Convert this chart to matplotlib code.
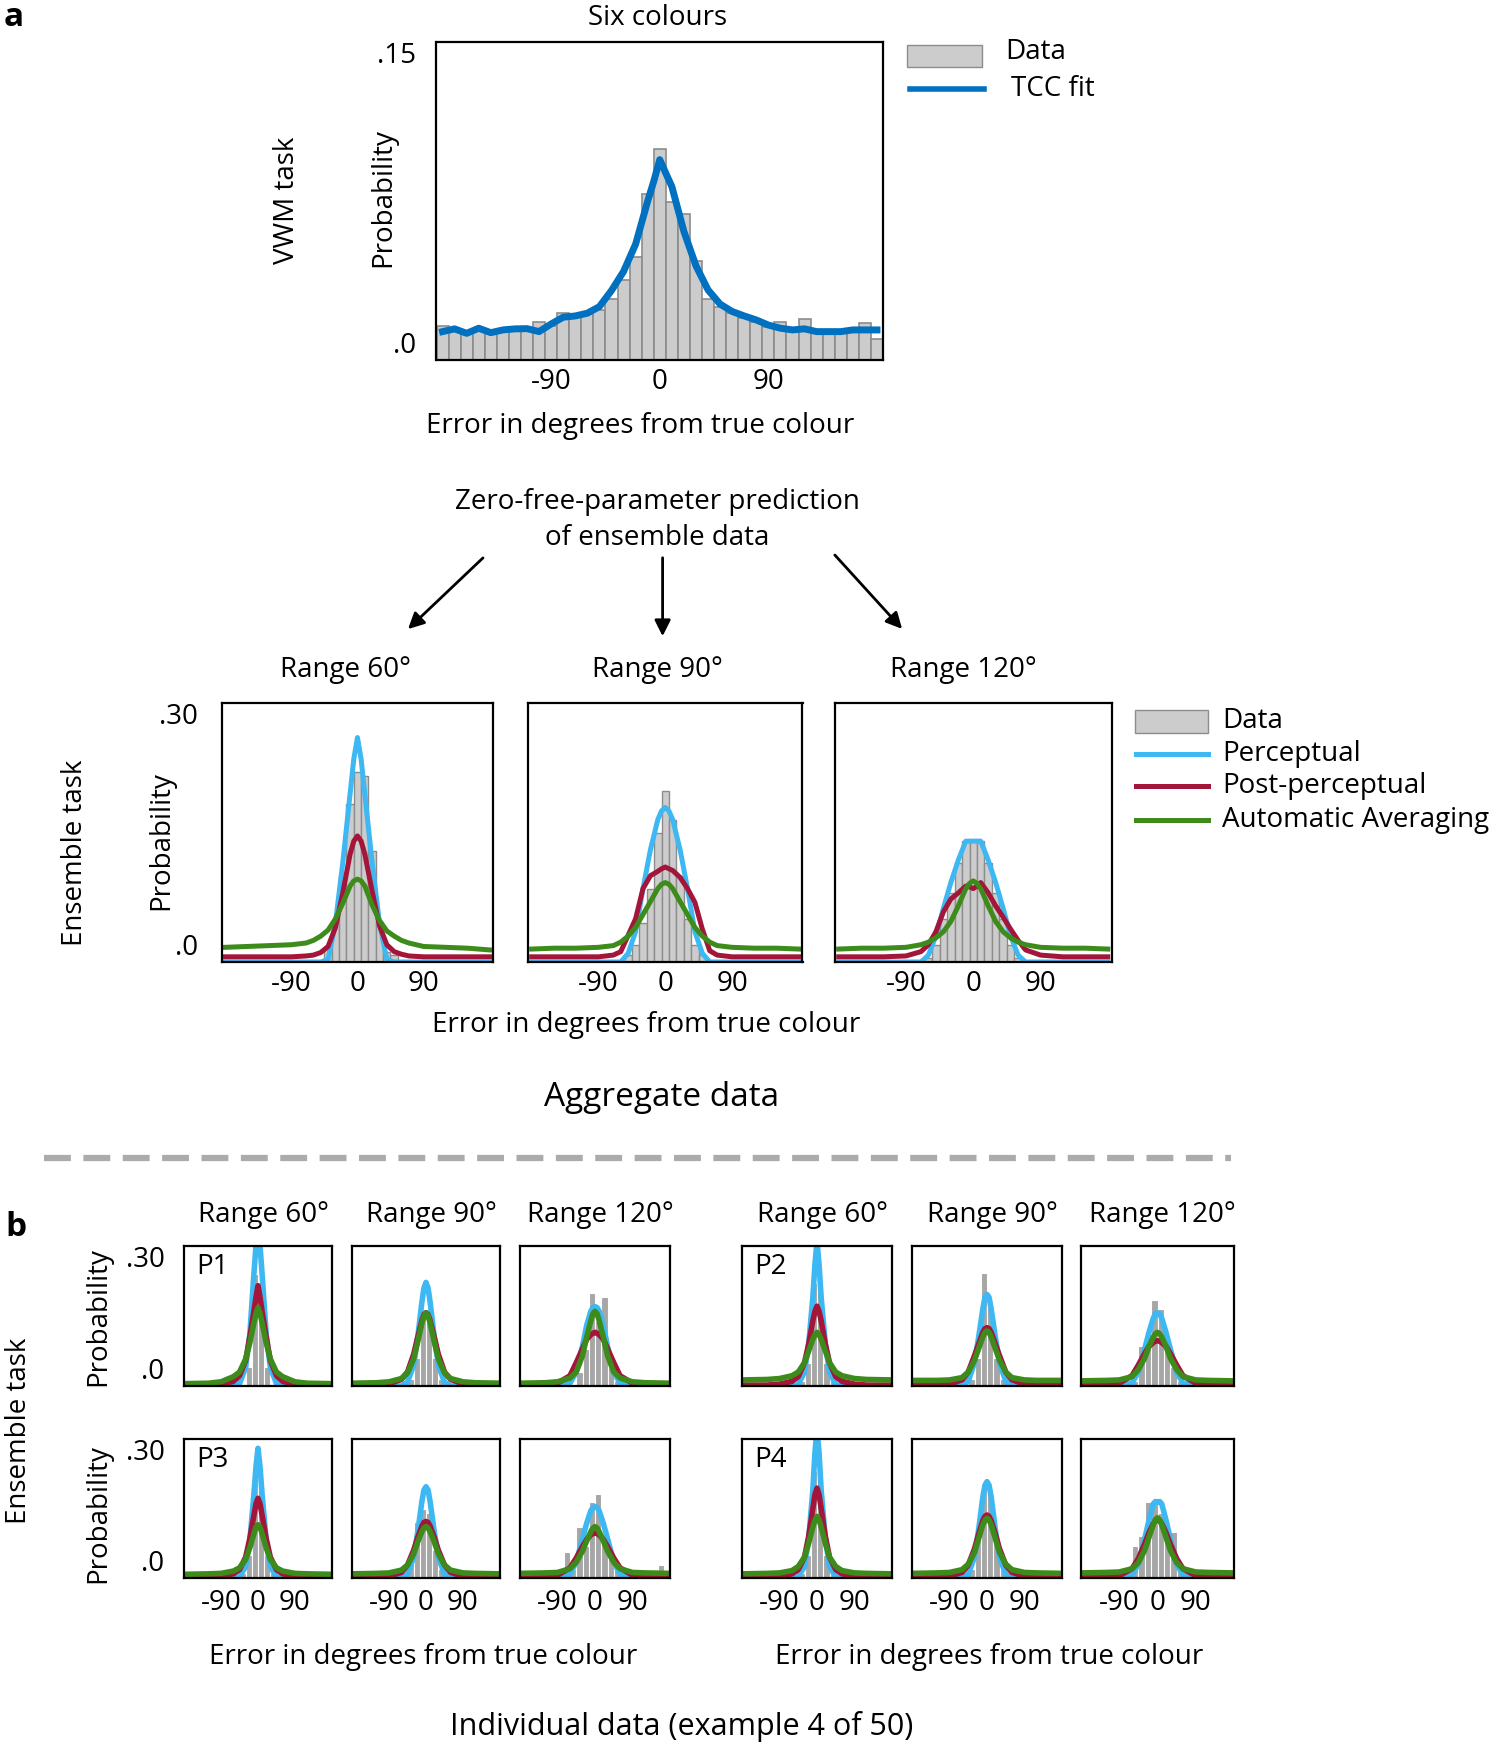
"""Aggregate + individual ensemble-task fits (TCC predictions vs data)."""

import matplotlib.pyplot as plt
import numpy as np
from matplotlib.lines import Line2D
from matplotlib.patches import FancyArrowPatch, Rectangle

W, H = 1500, 1746
plt.rcParams["font.family"] = ["Open Sans", "DejaVu Sans"]

TCC_BLUE = "#0070C0"
PERC = "#3DB8F3"      # perceptual
POST = "#A3163A"      # post-perceptual
AUTO = "#3D8C1B"      # automatic averaging
BAR_LIGHT = "#CCCCCC"
BAR_EDGE = "#8C8C8C"
BAR_DARK = "#A6A6A6"

# ---------- panel a, top: VWM task, six colours ----------
TOP_BIN_CENTERS = np.arange(-180, 181, 10)
TOP_HIST = [0.0162, 0.0135, 0.0130, 0.0135, 0.0130, 0.0135, 0.0135, 0.0135, 0.0180,
            0.0160, 0.0224, 0.0210, 0.0215, 0.0236, 0.0287, 0.0380, 0.0488, 0.0785,
            0.0996, 0.0748, 0.0689, 0.0468, 0.0287, 0.0250, 0.0220, 0.0197, 0.0180,
            0.0158, 0.0180, 0.0150, 0.0192, 0.0140, 0.0135, 0.0135, 0.0140, 0.0173,
            0.0098]
TOP_FIT_X = [-180, -170, -160, -150, -140, -130, -120, -110, -100, -90, -80, -70, -60,
             -50, -40, -30, -20, -10, -5, 0, 5, 10, 20, 30, 40, 50, 60, 70, 80, 90, 100,
             110, 120, 130, 140, 150, 160, 170, 180]
TOP_FIT = [0.0134, 0.0147, 0.0126, 0.0150, 0.0129, 0.0142, 0.0147, 0.0148, 0.0134,
           0.0170, 0.0202, 0.0208, 0.0221, 0.0252, 0.0328, 0.0418, 0.0547, 0.0750,
           0.0843, 0.0946, 0.0882, 0.0819, 0.0607, 0.0445, 0.0331, 0.0264, 0.0229,
           0.0208, 0.0189, 0.0165, 0.0150, 0.0142, 0.0147, 0.0134, 0.0134, 0.0134,
           0.0142, 0.0142, 0.0142]

# ---------- panel a, bottom: aggregate ensemble data ----------
MID_RANGES = ["Range 60\u00b0", "Range 90\u00b0", "Range 120\u00b0"]
MID_BIN_CENTERS = [-60, -50, -40, -30, -20, -10, 0, 10, 20, 30, 40, 50, 60]
MID_HIST = [
    [0, 0, 0.015, 0.046, 0.100, 0.183, 0.220, 0.215, 0.129, 0.046, 0.012, 0.008, 0],
    [0, 0.008, 0.020, 0.045, 0.085, 0.150, 0.198, 0.165, 0.100, 0.050, 0.020, 0.008, 0],
    [0.005, 0.020, 0.050, 0.080, 0.115, 0.140, 0.140, 0.140, 0.115, 0.080, 0.050, 0.020, 0.005],
]
MID_X = [-180, -150, -120, -90, -70, -60, -50, -40, -30, -20, -10, -5, 0, 5, 10, 20,
         30, 40, 50, 60, 70, 90, 120, 150, 180]
MID_PERC = [
    [0, 0, 0, 0, 0, 0, 0, 0.003, 0.045, 0.115, 0.195, 0.235, 0.260, 0.235, 0.195, 0.115,
     0.045, 0.003, 0, 0, 0, 0, 0, 0, 0],
    [0, 0, 0, 0, 0, 0, 0.010, 0.035, 0.085, 0.130, 0.165, 0.175, 0.179, 0.175, 0.165,
     0.130, 0.085, 0.035, 0.010, 0, 0, 0, 0, 0, 0],
    [0, 0, 0, 0, 0, 0.008, 0.030, 0.062, 0.092, 0.118, 0.140, 0.140, 0.140, 0.140, 0.140,
     0.118, 0.092, 0.062, 0.030, 0.008, 0, 0, 0, 0, 0],
]
MID_POST = [
    [0.006, 0.006, 0.006, 0.006, 0.007, 0.008, 0.011, 0.018, 0.040, 0.080, 0.125, 0.140,
     0.146, 0.140, 0.125, 0.082, 0.042, 0.020, 0.012, 0.009, 0.007, 0.006, 0.006, 0.006,
     0.006],
    [0.006, 0.006, 0.006, 0.006, 0.008, 0.012, 0.031, 0.050, 0.085, 0.100, 0.105, 0.108,
     0.110, 0.108, 0.106, 0.098, 0.085, 0.069, 0.038, 0.013, 0.008, 0.006, 0.006, 0.006,
     0.006],
    [0.006, 0.006, 0.006, 0.007, 0.012, 0.020, 0.035, 0.058, 0.073, 0.080, 0.088, 0.087,
     0.085, 0.088, 0.092, 0.080, 0.065, 0.052, 0.038, 0.025, 0.014, 0.008, 0.006, 0.006,
     0.006],
]
MID_AUTO = [
    [0.017, 0.018, 0.019, 0.020, 0.022, 0.025, 0.030, 0.037, 0.050, 0.068, 0.088, 0.094,
     0.096, 0.094, 0.088, 0.066, 0.048, 0.036, 0.030, 0.025, 0.022, 0.018, 0.017, 0.016,
     0.014],
    [0.015, 0.016, 0.016, 0.017, 0.019, 0.023, 0.030, 0.040, 0.055, 0.070, 0.085, 0.090,
     0.092, 0.090, 0.085, 0.070, 0.055, 0.040, 0.030, 0.023, 0.019, 0.017, 0.016, 0.016,
     0.015],
    [0.015, 0.016, 0.016, 0.017, 0.020, 0.023, 0.028, 0.035, 0.047, 0.065, 0.085, 0.091,
     0.094, 0.091, 0.085, 0.065, 0.047, 0.035, 0.028, 0.023, 0.020, 0.017, 0.016, 0.016,
     0.015],
]

# ---------- panel b: individual participants ----------
PARTICIPANTS = ["P1", "P2", "P3", "P4"]
SMALL_BINS = [-67.5, -52.5, -37.5, -22.5, -7.5, 7.5, 22.5, 37.5, 52.5, 67.5, 157.5]
SMALL_X = [-180, -120, -90, -60, -45, -30, -20, -10, -5, 0, 5, 10, 20, 30, 45, 60, 90, 120, 180]

# [participant][range]
SMALL_HIST = [
    [[0, 0, 0.005, 0.04, 0.24, 0.22, 0.04, 0.005, 0, 0, 0],
     [0, 0, 0.015, 0.06, 0.16, 0.15, 0.06, 0.015, 0, 0, 0],
     [0, 0.005, 0.03, 0.08, 0.20, 0.14, 0.19, 0.04, 0.01, 0, 0]],
    [[0, 0, 0.01, 0.05, 0.22, 0.20, 0.05, 0.01, 0, 0, 0],
     [0, 0, 0.015, 0.06, 0.243, 0.17, 0.06, 0.015, 0, 0, 0],
     [0, 0.01, 0.085, 0.10, 0.185, 0.165, 0.08, 0.04, 0.01, 0, 0]],
    [[0, 0, 0.01, 0.05, 0.22, 0.19, 0.05, 0.01, 0, 0, 0],
     [0, 0.005, 0.03, 0.12, 0.15, 0.14, 0.06, 0.02, 0.005, 0, 0],
     [0.057, 0.02, 0.11, 0.07, 0.163, 0.181, 0.09, 0.05, 0.02, 0, 0.029]],
    [[0, 0, 0.01, 0.05, 0.23, 0.21, 0.05, 0.01, 0, 0, 0],
     [0, 0, 0.02, 0.11, 0.20, 0.19, 0.08, 0.02, 0, 0, 0],
     [0, 0.068, 0.09, 0.165, 0.16, 0.14, 0.11, 0.10, 0.02, 0, 0]],
]
SMALL_PERC = [
    [[0, 0, 0, 0, 0.005, 0.04, 0.11, 0.24, 0.30, 0.36, 0.30, 0.24, 0.11, 0.04, 0.005, 0, 0, 0, 0],
     [0, 0, 0, 0, 0.008, 0.045, 0.105, 0.18, 0.21, 0.222, 0.21, 0.18, 0.105, 0.045, 0.008, 0, 0, 0, 0],
     [0, 0, 0, 0.006, 0.03, 0.085, 0.13, 0.16, 0.168, 0.17, 0.168, 0.16, 0.13, 0.085, 0.03, 0.006, 0, 0, 0]],
    [[0, 0, 0, 0, 0.003, 0.03, 0.09, 0.19, 0.26, 0.31, 0.26, 0.19, 0.09, 0.03, 0.003, 0, 0, 0, 0],
     [0, 0, 0, 0, 0.01, 0.05, 0.105, 0.165, 0.19, 0.196, 0.19, 0.165, 0.105, 0.05, 0.01, 0, 0, 0, 0],
     [0, 0, 0, 0.006, 0.03, 0.08, 0.115, 0.145, 0.155, 0.157, 0.155, 0.145, 0.115, 0.08, 0.03, 0.006, 0, 0, 0]],
    [[0, 0, 0, 0, 0.002, 0.025, 0.08, 0.18, 0.24, 0.28, 0.24, 0.18, 0.08, 0.025, 0.002, 0, 0, 0, 0],
     [0, 0, 0, 0, 0.008, 0.045, 0.10, 0.165, 0.19, 0.197, 0.19, 0.165, 0.10, 0.045, 0.008, 0, 0, 0, 0],
     [0, 0, 0, 0.008, 0.035, 0.085, 0.118, 0.145, 0.152, 0.154, 0.152, 0.145, 0.118, 0.085, 0.035, 0.008, 0, 0, 0]],
    [[0, 0, 0, 0, 0.002, 0.025, 0.085, 0.19, 0.27, 0.32, 0.27, 0.19, 0.085, 0.025, 0.002, 0, 0, 0, 0],
     [0, 0, 0, 0, 0.008, 0.045, 0.105, 0.175, 0.20, 0.208, 0.20, 0.175, 0.105, 0.045, 0.008, 0, 0, 0, 0],
     [0, 0, 0, 0.006, 0.03, 0.085, 0.125, 0.16, 0.165, 0.163, 0.165, 0.16, 0.125, 0.085, 0.03, 0.006, 0, 0, 0]],
]
SMALL_POST = [
    [[0.001, 0.002, 0.004, 0.01, 0.022, 0.055, 0.105, 0.16, 0.19, 0.215, 0.19, 0.16, 0.105, 0.055, 0.022, 0.01, 0.004, 0.002, 0.001],
     [0.002, 0.003, 0.005, 0.014, 0.03, 0.068, 0.105, 0.14, 0.153, 0.157, 0.153, 0.14, 0.105, 0.068, 0.03, 0.014, 0.005, 0.003, 0.002],
     [0.002, 0.003, 0.006, 0.022, 0.05, 0.08, 0.10, 0.11, 0.113, 0.115, 0.113, 0.11, 0.10, 0.08, 0.05, 0.022, 0.006, 0.003, 0.002]],
    [[0.002, 0.002, 0.004, 0.01, 0.02, 0.05, 0.09, 0.14, 0.16, 0.171, 0.16, 0.14, 0.09, 0.05, 0.02, 0.01, 0.004, 0.002, 0.002],
     [0.002, 0.003, 0.004, 0.013, 0.03, 0.065, 0.09, 0.115, 0.123, 0.125, 0.123, 0.115, 0.09, 0.065, 0.03, 0.013, 0.004, 0.003, 0.002],
     [0.002, 0.003, 0.006, 0.022, 0.045, 0.07, 0.085, 0.093, 0.096, 0.097, 0.096, 0.093, 0.085, 0.07, 0.045, 0.022, 0.006, 0.003, 0.002]],
    [[0.002, 0.003, 0.004, 0.009, 0.018, 0.045, 0.085, 0.135, 0.16, 0.172, 0.16, 0.135, 0.085, 0.045, 0.018, 0.009, 0.004, 0.003, 0.002],
     [0.002, 0.003, 0.004, 0.012, 0.028, 0.06, 0.088, 0.112, 0.12, 0.122, 0.12, 0.112, 0.088, 0.06, 0.028, 0.012, 0.004, 0.003, 0.002],
     [0.002, 0.003, 0.006, 0.022, 0.043, 0.068, 0.083, 0.093, 0.096, 0.097, 0.096, 0.093, 0.083, 0.068, 0.043, 0.022, 0.006, 0.003, 0.002]],
    [[0.002, 0.003, 0.004, 0.009, 0.018, 0.045, 0.09, 0.15, 0.18, 0.194, 0.18, 0.15, 0.09, 0.045, 0.018, 0.009, 0.004, 0.003, 0.002],
     [0.002, 0.003, 0.004, 0.012, 0.028, 0.063, 0.095, 0.124, 0.133, 0.136, 0.133, 0.124, 0.095, 0.063, 0.028, 0.012, 0.004, 0.003, 0.002],
     [0.002, 0.003, 0.005, 0.02, 0.042, 0.074, 0.098, 0.117, 0.124, 0.126, 0.124, 0.117, 0.098, 0.074, 0.042, 0.02, 0.005, 0.003, 0.002]],
]
SMALL_AUTO = [
    [[0.005, 0.006, 0.009, 0.02, 0.03, 0.058, 0.092, 0.135, 0.155, 0.168, 0.155, 0.135, 0.092, 0.058, 0.03, 0.02, 0.009, 0.006, 0.005],
     [0.006, 0.007, 0.009, 0.016, 0.028, 0.058, 0.095, 0.135, 0.15, 0.157, 0.15, 0.135, 0.095, 0.058, 0.028, 0.016, 0.009, 0.007, 0.006],
     [0.006, 0.007, 0.009, 0.017, 0.03, 0.065, 0.105, 0.14, 0.155, 0.16, 0.155, 0.14, 0.105, 0.065, 0.03, 0.017, 0.009, 0.007, 0.006]],
    [[0.013, 0.014, 0.016, 0.022, 0.03, 0.05, 0.075, 0.10, 0.11, 0.115, 0.11, 0.10, 0.075, 0.05, 0.03, 0.022, 0.016, 0.014, 0.013],
     [0.012, 0.012, 0.013, 0.018, 0.03, 0.055, 0.08, 0.105, 0.115, 0.118, 0.115, 0.105, 0.08, 0.055, 0.03, 0.018, 0.013, 0.012, 0.012],
     [0.011, 0.012, 0.013, 0.02, 0.035, 0.06, 0.085, 0.105, 0.112, 0.115, 0.112, 0.105, 0.085, 0.06, 0.035, 0.02, 0.013, 0.012, 0.011]],
    [[0.008, 0.009, 0.01, 0.015, 0.022, 0.04, 0.065, 0.095, 0.11, 0.115, 0.11, 0.095, 0.065, 0.04, 0.022, 0.015, 0.01, 0.009, 0.008],
     [0.009, 0.01, 0.011, 0.017, 0.028, 0.052, 0.078, 0.10, 0.108, 0.111, 0.108, 0.10, 0.078, 0.052, 0.028, 0.017, 0.011, 0.01, 0.009],
     [0.01, 0.011, 0.012, 0.02, 0.034, 0.058, 0.08, 0.10, 0.108, 0.111, 0.108, 0.10, 0.08, 0.058, 0.034, 0.02, 0.012, 0.011, 0.01]],
    [[0.009, 0.01, 0.011, 0.016, 0.025, 0.045, 0.075, 0.11, 0.125, 0.133, 0.125, 0.11, 0.075, 0.045, 0.025, 0.016, 0.011, 0.01, 0.009],
     [0.01, 0.011, 0.012, 0.018, 0.03, 0.055, 0.085, 0.115, 0.125, 0.129, 0.125, 0.115, 0.085, 0.055, 0.03, 0.018, 0.012, 0.011, 0.01],
     [0.011, 0.012, 0.013, 0.02, 0.033, 0.06, 0.088, 0.115, 0.126, 0.13, 0.126, 0.115, 0.088, 0.06, 0.033, 0.02, 0.013, 0.012, 0.011]],
]

fig = plt.figure(figsize=(15, 17.46), dpi=100)


def add_ax(x0, y0, x1, y1):
    """axes from pixel box (top-left origin)"""
    return fig.add_axes([x0 / W, 1 - y1 / H, (x1 - x0) / W, (y1 - y0) / H])


def ftext(x, y, s, **kw):
    kw.setdefault("ha", "center")
    kw.setdefault("va", "center")
    fig.text(x / W, 1 - y / H, s, **kw)


def frame(ax, lw=1.6):
    for sp in ax.spines.values():
        sp.set_linewidth(lw)
        sp.set_color("black")
    ax.tick_params(length=0)


def ylabels_inset(ax):
    labs = ax.get_yticklabels()
    labs[0].set_va("bottom")
    labs[-1].set_va("top")


# ---------- top panel ----------
ax = add_ax(436.5, 42.3, 883, 360)
ax.bar(TOP_BIN_CENTERS, TOP_HIST, width=10, color=BAR_LIGHT, edgecolor=BAR_EDGE, linewidth=1.2)
ax.plot(TOP_FIT_X, TOP_FIT, color=TCC_BLUE, lw=5)
ax.set_xlim(-185, 185)
ax.set_ylim(0, 0.15)
ax.set_xticks([-90, 0, 90])
ax.set_xticklabels(["-90", "0", "90"], fontsize=20)
ax.set_yticks([0, 0.15])
ax.set_yticklabels([".0", ".15"], fontsize=20)
ax.tick_params(axis="y", pad=15)
ax.tick_params(axis="x", pad=6)
frame(ax)
ylabels_inset(ax)

ftext(658, 18, "Six colours", fontsize=20)
ftext(383, 198, "Probability", fontsize=20, rotation=90)
ftext(287, 200, "VWM task", fontsize=20, rotation=90)
ftext(640, 426, "Error in degrees from true colour", fontsize=20)
ftext(14, 17, "a", fontsize=24, fontweight="bold")

# top legend
fig.add_artist(Rectangle((907 / W, 1 - 67 / H), 75 / W, 22 / H, transform=fig.transFigure,
                         facecolor=BAR_LIGHT, edgecolor=BAR_EDGE, lw=1))
fig.add_artist(Line2D([910 / W, 984 / W], [1 - 89 / H] * 2, transform=fig.transFigure,
                      color=TCC_BLUE, lw=4))
ftext(1005, 52, "Data", fontsize=20, ha="left")
ftext(1011, 89, "TCC fit", fontsize=20, ha="left")

# prediction text + arrows
ftext(657, 502, "Zero-free-parameter prediction", fontsize=20)
ftext(657, 538, "of ensemble data", fontsize=20)
for (xa, ya), (xb, yb) in [((485, 556), (406, 631)), ((662.6, 555), (662.6, 639)),
                           ((833, 553), (904, 631))]:
    fig.add_artist(FancyArrowPatch((xa / W, 1 - ya / H), (xb / W, 1 - yb / H),
                                   transform=fig.transFigure, arrowstyle="-|>",
                                   mutation_scale=24, lw=2, color="black"))

# ---------- aggregate ensemble panels ----------
mid_boxes = [(221.6, 493.3), (528, 802.5), (835, 1111.5)]
mid_title_x = [345, 657, 963]
for i, (x0, x1) in enumerate(mid_boxes):
    ax = add_ax(x0, 703, x1, 962)
    ax.bar(MID_BIN_CENTERS, MID_HIST[i], width=10, color=BAR_LIGHT, edgecolor=BAR_EDGE, linewidth=1)
    ax.plot(MID_X, MID_PERC[i], color=PERC, lw=3.6)
    ax.plot(MID_X, MID_POST[i], color=POST, lw=3.6)
    ax.plot(MID_X, MID_AUTO[i], color=AUTO, lw=3.6)
    ax.set_xlim(-185, 185)
    ax.set_ylim(0, 0.30)
    ax.set_xticks([-90, 0, 90])
    ax.set_xticklabels(["-90", "0", "90"], fontsize=20)
    ax.tick_params(axis="x", pad=6)
    if i == 0:
        ax.set_yticks([0, 0.30])
        ax.set_yticklabels([".0", ".30"], fontsize=20)
        ax.tick_params(axis="y", pad=17)
        ylabels_inset(ax)
    else:
        ax.set_yticks([])
    frame(ax)
    ftext(mid_title_x[i], 670, MID_RANGES[i], fontsize=20)

ftext(161.5, 841, "Probability", fontsize=20, rotation=90)
ftext(74.6, 853, "Ensemble task", fontsize=20, rotation=90)
ftext(646, 1025, "Error in degrees from true colour", fontsize=20)
ftext(661.5, 1098, "Aggregate data", fontsize=24)

# middle legend
fig.add_artist(Rectangle((1135 / W, 1 - 733 / H), 73 / W, 23 / H, transform=fig.transFigure,
                         facecolor=BAR_LIGHT, edgecolor=BAR_EDGE, lw=1))
ftext(1222, 721, "Data", fontsize=20, ha="left")
for yy, col, lab in [(754, PERC, "Perceptual"), (786, POST, "Post-perceptual"),
                     (820, AUTO, "Automatic Averaging")]:
    fig.add_artist(Line2D([1136 / W, 1208 / W], [1 - yy / H] * 2, transform=fig.transFigure,
                          color=col, lw=3.6))
    ftext(1222, yy, lab, fontsize=20, ha="left")

# separator
fig.add_artist(Line2D([44 / W, 1231 / W], [1 - 1158 / H] * 2, transform=fig.transFigure,
                      color="#ABABAB", lw=4.5, dashes=(4.3, 2.0)))

# ---------- individual panels ----------
ftext(16, 1228, "b", fontsize=24, fontweight="bold")
group_x = [[(184, 332), (352, 500), (520, 670)], [(742, 892), (912, 1062), (1081, 1234)]]
row_y = [(1246, 1386), (1439, 1578)]
for p, name in enumerate(PARTICIPANTS):
    row, grp = divmod(p, 2)
    y0, y1 = row_y[row]
    for r in range(3):
        x0, x1 = group_x[grp][r]
        ax = add_ax(x0, y0, x1, y1)
        ax.bar(SMALL_BINS, SMALL_HIST[p][r], width=15, color=BAR_DARK, edgecolor="white", linewidth=0.8)
        ax.plot(SMALL_X, SMALL_PERC[p][r], color=PERC, lw=4)
        ax.plot(SMALL_X, SMALL_POST[p][r], color=POST, lw=4)
        ax.plot(SMALL_X, SMALL_AUTO[p][r], color=AUTO, lw=4)
        ax.set_xlim(-180, 180)
        ax.set_ylim(0, 0.30)
        if row == 1:
            ax.set_xticks([-90, 0, 90])
            ax.set_xticklabels(["-90", "0", "90"], fontsize=20)
            ax.tick_params(axis="x", pad=8)
        else:
            ax.set_xticks([])
            ftext((x0 + x1) / 2 + 5, 1215, MID_RANGES[r], fontsize=20)
        if grp == 0 and r == 0:
            ax.set_yticks([0, 0.30])
            ax.set_yticklabels([".0", ".30"], fontsize=20)
            ax.tick_params(axis="y", pad=14)
            ylabels_inset(ax)
        else:
            ax.set_yticks([])
        if r == 0:
            ax.text(0.08, 0.85, name, transform=ax.transAxes, fontsize=20, ha="left", va="center")
        frame(ax)

ftext(98, 1317, "Probability", fontsize=20, rotation=90)
ftext(98, 1514, "Probability", fontsize=20, rotation=90)
ftext(19, 1431, "Ensemble task", fontsize=20, rotation=90)
ftext(423, 1657, "Error in degrees from true colour", fontsize=20)
ftext(989, 1657, "Error in degrees from true colour", fontsize=20)
ftext(681.5, 1726, "Individual data (example 4 of 50)", fontsize=22)

fig.savefig("out.png", dpi=100)
